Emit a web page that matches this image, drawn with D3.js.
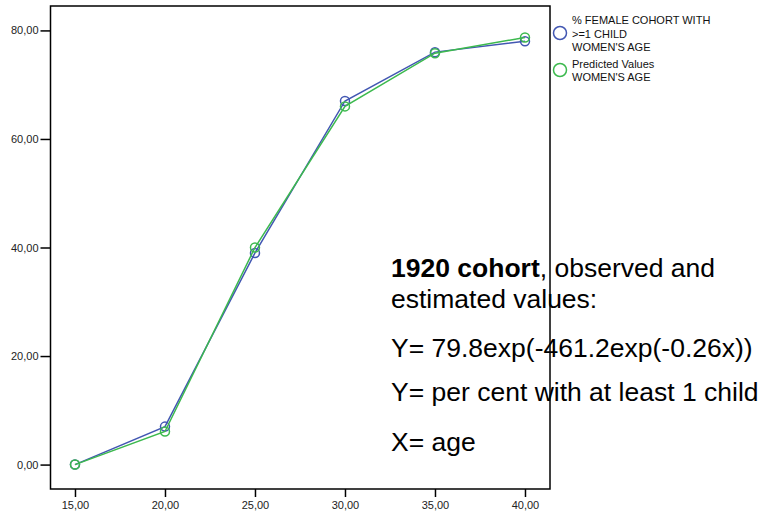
<!DOCTYPE html>
<html>
<head>
<meta charset="utf-8">
<script src="https://cdn.jsdelivr.net/npm/d3@7"></script>
<style>
  body { margin: 0; background: #fff; }
  svg { font-family: "Liberation Sans", Arial, sans-serif; }
  .axis text { font-size: 11px; fill: #222; }
  .axis line { stroke: #000; stroke-width: 1.5; }
</style>
</head>
<body>
<svg id="chart" width="765" height="517"></svg>
<script>
var ages = [15, 20, 25, 30, 35, 40];
var observed = [0, 7, 39, 67, 76, 78];
var predicted = [0, 6.1, 40, 66, 75.8, 78.7];
var xTicks = [15, 20, 25, 30, 35, 40];
var yTicks = [0, 20, 40, 60, 80];
var legendObserved = ["% FEMALE COHORT WITH", ">=1 CHILD", "WOMEN'S AGE"];
var legendPredicted = ["Predicted Values", "WOMEN'S AGE"];
var noteLines = ["estimated values:", "Y= 79.8exp(-461.2exp(-0.26x))", "Y= per cent with at least 1 child", "X= age"];

var blue = "#4257b2", green = "#3cb94e";

var frame = {left: 50.5, right: 550, top: 6, bottom: 489};
var svg = d3.select('#chart');

var x = d3.scaleLinear()
    .domain([13.64, 41.39])
    .range([frame.left, frame.right]);

var y = d3.scaleLinear()
    .domain([-4.5, 84.5])
    .range([frame.bottom, frame.top]);

var fmt = d => d3.format(".2f")(d).replace(".", ",");

var xAxis = d3.axisBottom(x).tickValues(xTicks).tickFormat(fmt).tickSize(8).tickPadding(4);
var yAxis = d3.axisLeft(y).tickValues(yTicks).tickFormat(fmt).tickSize(10).tickPadding(2);

svg.append("g")
    .attr("class", "axis")
    .attr("transform", `translate(0 ${frame.bottom})`)
    .call(xAxis)
    .call(g => g.select(".domain").remove());

svg.append("g")
    .attr("class", "axis")
    .attr("transform", `translate(${frame.left} 0)`)
    .call(yAxis)
    .call(g => g.select(".domain").remove());

// series
var series = [
    {values: observed, color: blue},
    {values: predicted, color: green}
];

var line = d3.line()
    .x((d, i) => x(ages[i]))
    .y(d => y(d));

series.forEach(s => {
    svg.append("path")
        .attr("d", line(s.values))
        .attr("fill", "none")
        .attr("stroke", s.color)
        .attr("stroke-width", 1.5);

    svg.selectAll(null)
        .data(s.values)
        .enter()
        .append("circle")
        .attr("cx", (d, i) => x(ages[i]))
        .attr("cy", d => y(d))
        .attr("r", 4.5)
        .attr("fill", "none")
        .attr("stroke", s.color)
        .attr("stroke-width", 1.5);
});

// annotation
var note = svg.append("g").attr("font-size", "26.5px").attr("fill", "#000");

var first = note.append("text").attr("x", 391).attr("y", 277);
first.append("tspan").attr("font-weight", "bold").text("1920 cohort");
first.append("tspan").text(", observed and");

note.selectAll(null)
    .data(noteLines)
    .enter()
    .append("text")
    .attr("x", 391)
    .attr("y", (d, i) => [308, 357, 401, 451][i])
    .text(d => d);

// frame
svg.append("rect")
    .attr("x", frame.left)
    .attr("y", frame.top)
    .attr("width", frame.right - frame.left)
    .attr("height", frame.bottom - frame.top)
    .attr("fill", "none")
    .attr("stroke", "#000")
    .attr("stroke-width", 1.5);

// legend
var legend = svg.append("g").attr("font-size", "11px").attr("fill", "#111");

[
    {lines: legendObserved, color: blue, cy: 33, base: 24},
    {lines: legendPredicted, color: green, cy: 70, base: 67.5}
].forEach(item => {
    legend.append("circle")
        .attr("cx", 560)
        .attr("cy", item.cy)
        .attr("r", 6.5)
        .attr("fill", "none")
        .attr("stroke", item.color)
        .attr("stroke-width", 1.5);

    legend.selectAll(null)
        .data(item.lines)
        .enter()
        .append("text")
        .attr("x", 572)
        .attr("y", (d, i) => item.base + i * 13.5)
        .text(d => d);
});
</script>
</body>
</html>
